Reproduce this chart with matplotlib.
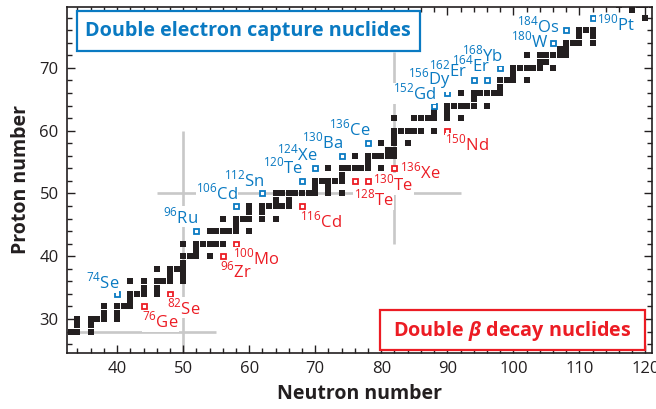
import matplotlib
matplotlib.use("Agg")
import matplotlib.pyplot as plt
from matplotlib.patches import Rectangle
from matplotlib.ticker import MultipleLocator

FONT = "Open Sans"
plt.rcParams["font.family"] = [FONT, "DejaVu Sans"]
plt.rcParams["mathtext.fontset"] = "custom"
plt.rcParams["mathtext.rm"] = FONT
plt.rcParams["mathtext.it"] = FONT + ":italic:bold"
plt.rcParams["mathtext.bf"] = FONT + ":bold"

BLUE = "#0a7ac2"
RED = "#ec1c24"
GREY = "#c8c8c8"
INK = "#231f20"

# stable nuclides: proton number -> neutron numbers
stable = {
    28: [30, 32, 33, 34, 36],
    29: [34, 36],
    30: [34, 36, 37, 38, 40],
    31: [38, 40],
    32: [38, 40, 41, 42, 44],
    33: [42],
    34: [40, 42, 43, 44, 46, 48],
    35: [44, 46],
    36: [42, 44, 46, 47, 48, 50],
    37: [48, 50],
    38: [46, 48, 49, 50],
    39: [50],
    40: [50, 51, 52, 54, 56],
    41: [52],
    42: [50, 52, 53, 54, 55, 56, 58],
    44: [52, 54, 55, 56, 57, 58, 60],
    45: [58],
    46: [56, 58, 59, 60, 62, 64],
    47: [60, 62],
    48: [58, 60, 62, 63, 64, 65, 66, 68],
    49: [64, 66],
    50: [62, 64, 65, 66, 67, 68, 69, 70, 72, 74],
    51: [70, 72],
    52: [68, 70, 71, 72, 73, 74, 76, 78],
    53: [74],
    54: [70, 72, 74, 75, 76, 77, 78, 80, 82],
    55: [78],
    56: [74, 76, 78, 79, 80, 81, 82],
    57: [81, 82],
    58: [78, 80, 82, 84],
    59: [82],
    60: [82, 83, 84, 85, 86, 88, 90],
    62: [82, 85, 86, 87, 88, 90, 92],
    63: [88, 90],
    64: [88, 90, 91, 92, 93, 94, 96],
    65: [94],
    66: [90, 92, 94, 95, 96, 97, 98],
    67: [98],
    68: [94, 96, 98, 99, 100, 102],
    69: [100],
    70: [98, 100, 101, 102, 103, 104, 106],
    71: [104, 105],
    72: [102, 104, 105, 106, 107, 108],
    73: [107, 108],
    74: [106, 108, 109, 110, 112],
    75: [110, 112],
    76: [108, 110, 111, 112, 113, 114, 116],
    77: [114, 116],
    78: [112, 114, 116, 117, 118, 120],
    79: [118],
    80: [116, 118, 119, 120, 121, 122, 124],
}

# double electron capture candidates
ec_mass = [74, 96, 106, 112, 120, 124, 130, 136, 152, 156, 162, 164, 168, 180, 184, 190]
ec_elem = ["Se", "Ru", "Cd", "Sn", "Te", "Xe", "Ba", "Ce", "Gd", "Dy", "Er", "Er", "Yb", "W", "Os", "Pt"]
ec_Z = [34, 44, 48, 50, 52, 54, 56, 58, 64, 66, 68, 68, 70, 74, 76, 78]

# double beta decay candidates
bb_mass = [76, 82, 96, 100, 116, 128, 130, 136, 150]
bb_elem = ["Ge", "Se", "Zr", "Mo", "Cd", "Te", "Te", "Xe", "Nd"]
bb_Z = [32, 34, 40, 42, 48, 52, 52, 54, 60]

# label placement (dN, dZ, alignment) relative to the marker
ec_pos = [(0.3, 0.9, "right"), (0.3, 1.3, "right"), (0.3, 1.1, "right"), (0.3, 1.2, "right"),
          (0.2, 1.2, "right"), (0.3, 1.3, "right"), (0.2, 1.2, "right"), (0.3, 1.2, "right"),
          (0.3, 0.9, "right"), (0.5, 1.3, "right"), (-1.0, 0.6, "right"), (0.5, 1.4, "right"),
          (0.5, 1.0, "right"), (-0.7, -0.7, "right"), (-1.0, -0.4, "right"), (0.6, -2.0, "left")]
bb_pos = [(-0.2, -3.4, "left"), (-0.4, -3.2, "left"), (-0.4, -3.3, "left"), (-0.4, -3.3, "left"),
          (-0.3, -3.4, "left"), (-0.2, -3.9, "left"), (0.8, -1.5, "left"), (0.9, -1.6, "left"),
          (-0.3, -3.1, "left")]

ec_N = [a - z for a, z in zip(ec_mass, ec_Z)]
bb_N = [a - z for a, z in zip(bb_mass, bb_Z)]
special = set(zip(ec_N, ec_Z)) | set(zip(bb_N, bb_Z))

black_N, black_Z = [], []
for z, ns in stable.items():
    for n in ns:
        if (n, z) not in special:
            black_N.append(n)
            black_Z.append(z)

fig = plt.figure(figsize=(6.56, 4.09), dpi=100)
ax = fig.add_axes([0.102, 0.137, 0.892, 0.846])

# magic number guide lines
for xs, ys in [([50, 50], [20, 60]), ([30, 55], [28, 28]), ([46, 92], [50, 50]), ([82, 82], [42, 72.5])]:
    ax.plot(xs, ys, color=GREY, lw=1.9, zorder=1, solid_capstyle="butt")

ax.plot(black_N, black_Z, "s", color="#231f20", ms=3.7, mew=0, zorder=3)
ax.plot(ec_N, ec_Z, "s", mfc="white", mec=BLUE, ms=3.6, mew=1.3, ls="none", zorder=3)
ax.plot(bb_N, bb_Z, "s", mfc="white", mec=RED, ms=3.6, mew=1.3, ls="none", zorder=3)

# labels: white backing first, then all text on top so labels never hide each other
labels = []
for a, el, n, z, (dx, dy, ha) in zip(ec_mass, ec_elem, ec_N, ec_Z, ec_pos):
    labels.append((n + dx, z + dy, r"$^{\mathregular{%d}}$%s" % (a, el), BLUE, ha))
for a, el, n, z, (dx, dy, ha) in zip(bb_mass, bb_elem, bb_N, bb_Z, bb_pos):
    labels.append((n + dx, z + dy, r"$^{\mathregular{%d}}$%s" % (a, el), RED, ha))
for x, y, s, c, ha in labels:
    ax.text(x, y, s, color="none", fontsize=12, ha=ha, va="baseline", zorder=3.5,
            bbox=dict(facecolor="white", edgecolor="none", pad=0.3))
for x, y, s, c, ha in labels:
    ax.text(x, y, s, color=c, fontsize=12, ha=ha, va="baseline", zorder=4)

# legend boxes
ax.add_patch(Rectangle((0.017, 0.873), 0.586, 0.115, transform=ax.transAxes,
                       facecolor="white", edgecolor=BLUE, lw=1.6, zorder=5))
ax.text(0.310, 0.916, "Double electron capture nuclides", transform=ax.transAxes,
        color=BLUE, fontsize=14.2, fontweight="bold", ha="center", va="baseline", zorder=6)
ax.add_patch(Rectangle((0.535, 0.009), 0.453, 0.115, transform=ax.transAxes,
                       facecolor="white", edgecolor=RED, lw=1.6, zorder=5))
ax.text(0.7615, 0.050, r"Double $\beta$ decay nuclides", transform=ax.transAxes,
        color=RED, fontsize=14.2, fontweight="bold", ha="center", va="baseline", zorder=6)

ax.set_xlim(32.4, 121)
ax.set_ylim(24.6, 79.7)
ax.xaxis.set_major_locator(MultipleLocator(10))
ax.xaxis.set_minor_locator(MultipleLocator(2))
ax.yaxis.set_major_locator(MultipleLocator(10))
ax.yaxis.set_minor_locator(MultipleLocator(2))
ax.tick_params(which="both", direction="in", top=True, right=True, color=INK, width=1)
ax.tick_params(which="major", length=6, labelsize=12, labelcolor=INK, pad=6)
ax.tick_params(which="minor", length=3.5)
for s in ax.spines.values():
    s.set_linewidth(1.2)
    s.set_color(INK)

ax.set_xlabel("Neutron number", fontsize=14, fontweight="bold", color=INK, labelpad=5)
ax.set_ylabel("Proton number", fontsize=14, fontweight="bold", color=INK, labelpad=6)

fig.savefig("out.png", dpi=100)
